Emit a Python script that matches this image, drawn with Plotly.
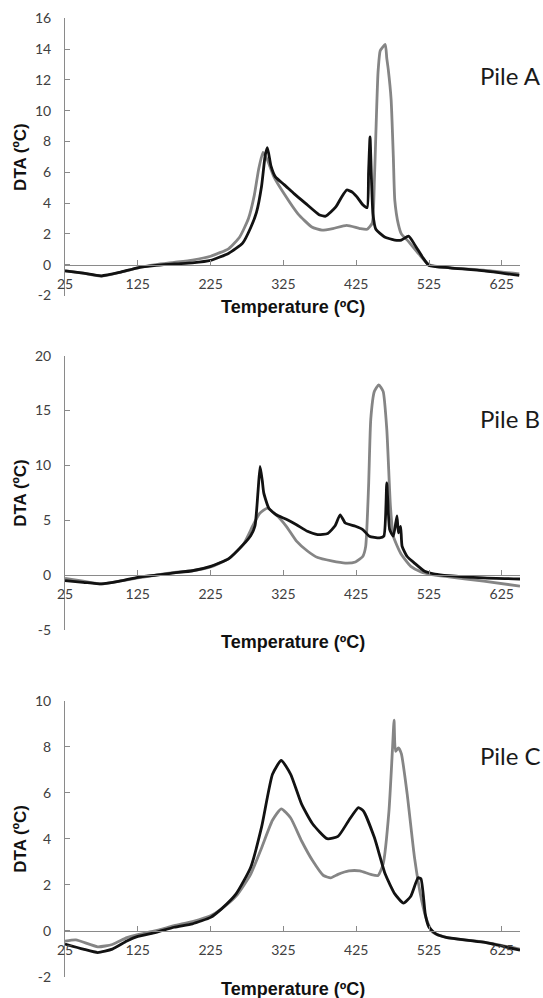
import plotly.graph_objects as go

# ---------------- data ----------------
# Pile A
tA_black = [25, 50, 75, 100, 125, 150, 175, 200, 225, 250, 269, 280, 288, 295, 300, 303, 308, 314, 326, 340, 355, 374,
            383, 397, 405, 412, 420, 426, 434, 440, 442, 444, 446, 448, 452, 464, 478, 487, 497, 506, 516, 525, 554, 601, 649]
yA_black = [-0.4, -0.55, -0.72, -0.5, -0.2, -0.05, 0.05, 0.12, 0.28, 0.75, 1.4, 2.4, 3.4, 5.1, 7.1, 7.6, 6.4, 5.7, 5.2, 4.6, 4.0, 3.25,
            3.15, 3.75, 4.4, 4.85, 4.7, 4.4, 3.9, 3.7, 6.0, 8.3, 5.5, 3.3, 2.3, 1.8, 1.6, 1.6, 1.85, 1.25, 0.5, -0.05, -0.2, -0.4, -0.7]
tA_gray = [25, 50, 75, 100, 125, 150, 175, 200, 225, 250, 265, 277, 285, 291, 297, 303, 312, 326, 345, 364, 378, 393, 412, 430,
           440, 447, 450, 452, 455, 458, 461, 465, 467, 469, 473, 476, 478, 483, 487, 497, 511, 525, 554, 600, 649]
yA_gray = [-0.4, -0.55, -0.75, -0.5, -0.2, 0.0, 0.15, 0.3, 0.55, 1.05, 1.8, 3.0, 4.5, 6.2, 7.3, 6.8, 5.7, 4.6, 3.3, 2.45, 2.25, 2.35, 2.55, 2.35,
           2.3, 2.7, 5.5, 8.5, 12.5, 13.9, 14.1, 14.3, 13.4, 12.7, 10.7, 7.0, 4.2, 2.6, 2.0, 1.5, 0.7, 0.0, -0.2, -0.35, -0.6]

# Pile B
tB_black = [25, 50, 75, 100, 125, 150, 175, 200, 225, 250, 270, 280, 286, 290, 293, 296, 298, 305, 315, 329, 343, 358, 372, 386,
            396, 403, 410, 424, 434, 443, 457, 463, 467, 471, 476, 481, 483, 486, 488, 495, 505, 519, 533, 552, 600, 650]
yB_black = [-0.5, -0.65, -0.8, -0.55, -0.2, 0.0, 0.2, 0.4, 0.8, 1.5, 2.8, 3.6, 4.5, 7.5, 9.9, 8.6, 7.5, 6.1, 5.5, 5.1, 4.6, 4.0, 3.7, 3.8,
            4.5, 5.5, 4.75, 4.45, 4.15, 3.55, 3.4, 3.55, 8.4, 4.15, 3.55, 5.4, 3.85, 4.45, 2.65, 1.7, 1.1, 0.35, 0.1, -0.05, -0.25, -0.35]
tB_gray = [25, 50, 75, 100, 125, 150, 175, 200, 225, 250, 270, 283, 292, 303, 315, 329, 343, 358, 372, 391, 410, 424, 434, 438,
           442, 445, 450, 456, 462, 467, 472, 476, 486, 500, 514, 529, 552, 600, 650]
yB_gray = [-0.3, -0.55, -0.8, -0.55, -0.25, 0.0, 0.25, 0.4, 0.75, 1.5, 2.8, 4.5, 5.6, 6.1, 5.5, 4.45, 3.1, 2.2, 1.6, 1.3, 1.1, 1.2, 1.7, 2.6,
           8.1, 14.2, 16.75, 17.35, 16.75, 13.3, 6.3, 3.55, 2.0, 0.8, 0.3, 0.05, -0.15, -0.55, -1.0]

# Pile C
tC_black = [25, 50, 70, 90, 110, 125, 150, 175, 200, 225, 240, 260, 280, 295, 310, 322, 335, 350, 365, 385, 400, 415, 428, 435,
            450, 465, 478, 490, 500, 510, 514, 520, 525, 535, 550, 600, 650]
yC_black = [-0.58, -0.8, -0.95, -0.8, -0.45, -0.25, -0.07, 0.15, 0.3, 0.58, 0.95, 1.6, 2.75, 4.5, 6.8, 7.4, 6.8, 5.5, 4.65, 4.0, 4.1, 4.8, 5.35, 5.2,
            4.05, 2.45, 1.6, 1.2, 1.5, 2.3, 2.25, 0.7, 0.15, -0.15, -0.3, -0.5, -0.85]
tC_gray = [25, 40, 70, 90, 110, 125, 150, 175, 200, 225, 240, 260, 280, 295, 310, 322, 335, 350, 365, 380, 390, 400, 415, 430,
           445, 455, 462, 470, 475, 477, 479, 483, 487, 495, 505, 515, 522, 530, 550, 600, 650]
yC_gray = [-0.45, -0.4, -0.7, -0.6, -0.3, -0.17, 0.0, 0.22, 0.4, 0.65, 0.95, 1.5, 2.45, 3.6, 4.8, 5.3, 4.9, 3.9, 3.05, 2.4, 2.3, 2.45, 2.6, 2.6,
           2.45, 2.4, 2.9, 5.2, 8.0, 9.15, 7.8, 7.95, 7.7, 5.95, 3.2, 1.3, 0.45, -0.07, -0.3, -0.5, -0.8]

x_ticks = [25, 125, 225, 325, 425, 525, 625]
y_ticks_A = [-2, 0, 2, 4, 6, 8, 10, 12, 14, 16]
y_ticks_B = [-5, 0, 5, 10, 15, 20]
y_ticks_C = [-2, 0, 2, 4, 6, 8, 10]
pile_labels = ["Pile A", "Pile B", "Pile C"]
x_title = "Temperature (ºC)"
y_title = "DTA (ºC)"

# ---------------- layout geometry ----------------
W, H = 543, 998
X0, X1 = 65, 520                       # plot area left/right (px)
panels = [
    dict(t=tA_black, yb=yA_black, tg=tA_gray, yg=yA_gray, yr=[-2, 16], ticks=y_ticks_A, top=18.3, bot=295.5,
         label_y=75, xt_y=307),
    dict(t=tB_black, yb=yB_black, tg=tB_gray, yg=yB_gray, yr=[-5, 20], ticks=y_ticks_B, top=355.7, bot=630,
         label_y=419, xt_y=642),
    dict(t=tC_black, yb=yC_black, tg=tC_gray, yg=yC_gray, yr=[-2, 10], ticks=y_ticks_C, top=700.7, bot=976.7,
         label_y=755, xt_y=989),
]

AXIS_COL = "#8a8a8a"
TICK_FONT = dict(family="Lato, 'Open Sans', sans-serif", size=14, color="#404040")
BLACK = "#121212"
GRAY = "#858585"

fig = go.Figure()
layout = dict(template="none", width=W, height=H, margin=dict(l=0, r=0, t=0, b=0, pad=0), paper_bgcolor="white",
              plot_bgcolor="rgba(0,0,0,0)", showlegend=False)
annotations = []

def py(px):
    return 1 - px / H

for i, p in enumerate(panels):
    n = "" if i == 0 else str(i + 1)
    xa, ya = "x" + n, "y" + n
    fig.add_trace(go.Scatter(x=p["tg"], y=p["yg"], mode="lines", xaxis=xa, yaxis=ya,
                             line=dict(color=GRAY, width=2.8, shape="spline", smoothing=0.5), hoverinfo="skip"))
    fig.add_trace(go.Scatter(x=p["t"], y=p["yb"], mode="lines", xaxis=xa, yaxis=ya,
                             line=dict(color=BLACK, width=2.8, shape="spline", smoothing=0.5), hoverinfo="skip"))
    d0, d1 = py(p["bot"]), py(p["top"])
    ymin, ymax = p["yr"]
    zero_pos = d0 + (0 - ymin) / (ymax - ymin) * (d1 - d0)
    layout["xaxis" + n] = dict(domain=[X0 / W, X1 / W], range=[25, 650], anchor="free", position=zero_pos,
                               tickvals=x_ticks, ticktext=[str(v) for v in x_ticks], ticks="inside", ticklen=5,
                               tickcolor=AXIS_COL, showline=True, linecolor=AXIS_COL, linewidth=1, showgrid=False,
                               zeroline=False, automargin=False, tickfont=TICK_FONT, ticklabelstandoff=6,
                               fixedrange=True)
    layout["yaxis" + n] = dict(domain=[d0, d1], range=p["yr"], anchor=xa, tickvals=p["ticks"],
                               ticktext=[str(v) for v in p["ticks"]], ticks="inside",
                               ticklen=5, tickcolor=AXIS_COL, showline=True, linecolor=AXIS_COL, linewidth=1,
                               showgrid=False, zeroline=False, automargin=False, tickfont=TICK_FONT,
                               ticklabelstandoff=10, fixedrange=True)
    # panel label
    annotations.append(dict(text=pile_labels[i], xref="paper", yref="paper", x=478 / W, y=py(p["label_y"]),
                            xanchor="left", yanchor="middle", showarrow=False,
                            font=dict(family="Lato, 'Open Sans', sans-serif", size=24, color="#1a1a1a")))
    # axis titles
    annotations.append(dict(text="<b>" + x_title + "</b>", xref="paper", yref="paper", x=(X0 + X1) / 2 / W,
                            y=py(p["xt_y"]), xanchor="center", yanchor="middle", showarrow=False,
                            font=dict(family="Liberation Sans, Arial, sans-serif", size=18, color="#111111")))
    annotations.append(dict(text="<b>" + y_title + "</b>", xref="paper", yref="paper", x=21 / W,
                            y=py((p["top"] + p["bot"]) / 2), xanchor="center", yanchor="middle", textangle=-90,
                            showarrow=False,
                            font=dict(family="Liberation Sans, Arial, sans-serif", size=17, color="#111111")))

layout["annotations"] = annotations
fig.update_layout(**layout)
fig.write_html("out.html", config=dict(displayModeBar=False),
               post_script="document.body.style.margin='0';document.body.style.overflow='hidden';")
